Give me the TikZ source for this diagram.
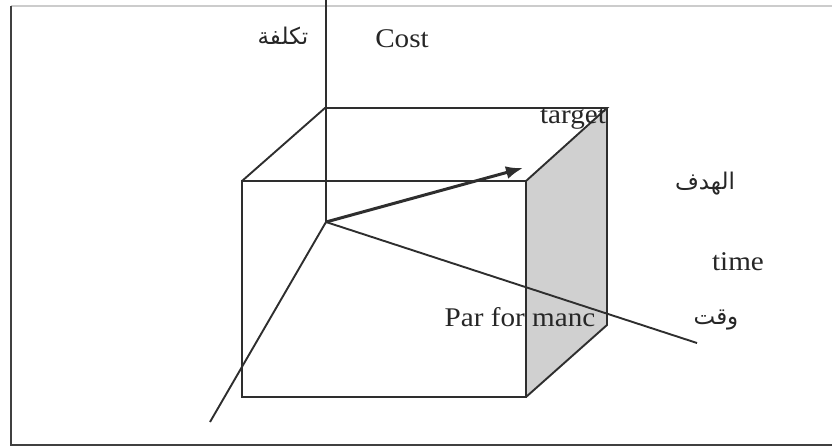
\documentclass[tikz,border=0pt]{standalone}
\usepackage{fontspec}
\setmainfont{Liberation Serif}
\newfontfamily\arabicfont[Script=Arabic]{DejaVu Sans}
\TeXXeTstate=1
\usetikzlibrary{arrows.meta}
\definecolor{edgecol}{HTML}{2E2E2E}
\definecolor{sidegray}{HTML}{D0D0D0}
\tikzset{
  cubeline/.style={draw=edgecol, line width=1.9pt, line join=miter},
  axisline/.style={draw=edgecol, line width=1.9pt},
  latinlabel/.style={font=\fontsize{27}{30}\selectfont, inner sep=0pt, text=black!85},
  arlabel/.style={font=\arabicfont\fontsize{23}{26}\selectfont, inner sep=0pt, text=black!85},
}
\newcommand{\stretchtxt}[1]{\scalebox{1.08}[1]{#1}}
\begin{document}
\begin{tikzpicture}[x=1pt,y=-1pt]
\useasboundingbox (0,0) rectangle (832,447);
% frame
\draw[black!20, line width=2pt] (11,6) -- (832,6);
\draw[black!75, line width=2pt] (11,6) -- (11,445) -- (832,445);
% cube corners
\coordinate (ftl) at (242,181);
\coordinate (ftr) at (526,181);
\coordinate (fbl) at (242,397);
\coordinate (fbr) at (526,397);
\coordinate (btl) at (325,108);
\coordinate (btr) at (607,108);
\coordinate (bbr) at (607,325);
% axes points
\coordinate (o) at (326,222);
\coordinate (ctop) at (326,0);
\coordinate (tend) at (697,343);
\coordinate (dend) at (210,422);
\coordinate (atip) at (523,168);
% shaded side face
\fill[sidegray] (ftr) -- (btr) -- (bbr) -- (fbr) -- cycle;
% front face and top
\draw[cubeline] (ftl) rectangle (fbr);
\draw[cubeline] (ftl) -- (btl) -- (btr) -- (ftr);
\draw[cubeline] (btr) -- (bbr) -- (fbr);
% axes
\draw[axisline] (ctop) -- (o);
\draw[axisline] (o) -- (tend);
\draw[axisline] (o) -- (dend);
\draw[draw=edgecol, line width=3pt, -{Latex[length=17pt,width=13pt]}] (o) -- (atip);
% labels
\node[arlabel] (takl) at (283,36) {\beginR تكلفة\endR};
\node[latinlabel, anchor=base] (cost) at (402,47) {\stretchtxt{Cost}};
\node[latinlabel, anchor=base] (target) at (573,123) {\stretchtxt{target}};
\node[arlabel] (hadaf) at (705,184) {\beginR الهدف\endR};
\node[latinlabel, anchor=base] (time) at (738,270) {\stretchtxt{time}};
\node[latinlabel, anchor=base] (perf) at (520,326) {\stretchtxt{Par for manc}};
\node[arlabel] (waqt) at (716,320) {\beginR وقت\endR};
\end{tikzpicture}
\end{document}
